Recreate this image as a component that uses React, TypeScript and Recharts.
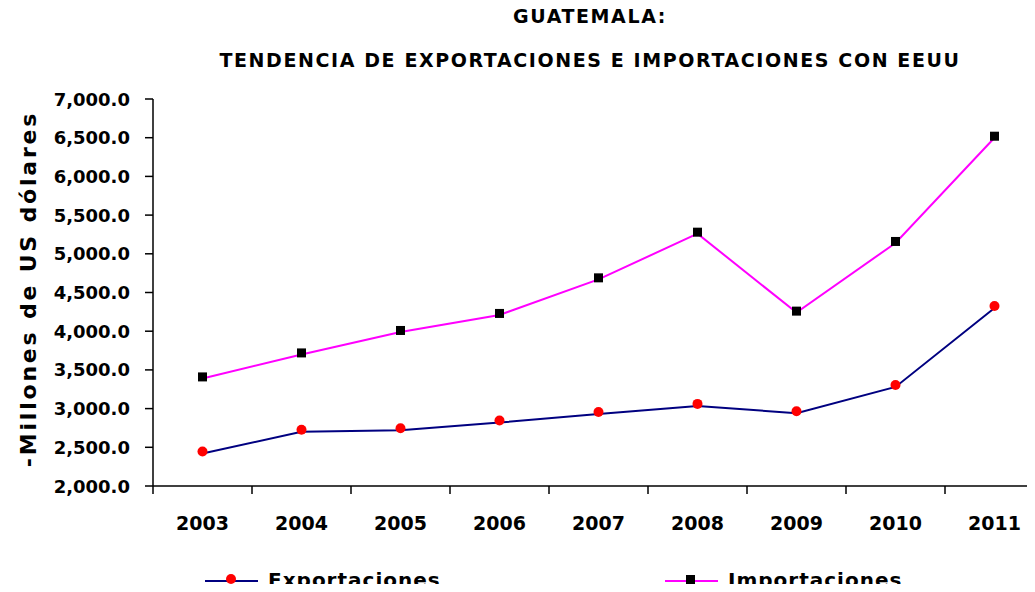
import { LineChart, Line, XAxis, YAxis } from "recharts";

const years = ["2003", "2004", "2005", "2006", "2007", "2008", "2009", "2010", "2011"];
const exportaciones = [2420, 2700, 2720, 2820, 2930, 3035, 2940, 3280, 4300];
const importaciones = [3390, 3700, 3990, 4210, 4670, 5260, 4240, 5140, 6500];
const yTicks = [2000, 2500, 3000, 3500, 4000, 4500, 5000, 5500, 6000, 6500, 7000];

const titleLines = ["GUATEMALA:", "TENDENCIA DE EXPORTACIONES E IMPORTACIONES CON EEUU"];
const yLabel = "-Millones de US dólares";

const FONT = "'DejaVu Sans', sans-serif";
const EXP_COLOR = "#000080";
const IMP_COLOR = "#ff00ff";

const data = years.map((year, i) => ({
  year,
  exportaciones: exportaciones[i],
  importaciones: importaciones[i],
}));

const fmt = (v: number) =>
  v.toLocaleString("en-US", { minimumFractionDigits: 1, maximumFractionDigits: 1 });

const AXIS_Y = 486;
const HALF_BAND = 49.5;

function YearTick(props: any) {
  const { x, payload } = props;
  return (
    <g>
      <line x1={x - HALF_BAND} x2={x - HALF_BAND} y1={AXIS_Y} y2={AXIS_Y + 8} stroke="#000" strokeWidth={1.5} />
      <text x={x} y={AXIS_Y + 44} textAnchor="middle" fontFamily={FONT} fontWeight="bold" fontSize={19} fill="#000">
        {payload.value}
      </text>
    </g>
  );
}

function ValueTick(props: any) {
  const { x, y, payload } = props;
  return (
    <text x={x} y={y} dy={6.5} textAnchor="end" fontFamily={FONT} fontWeight="bold" fontSize={18} fill="#000">
      {fmt(payload.value)}
    </text>
  );
}

const RedDot = (props: any) => {
  const { cx, cy, index } = props;
  return <circle key={index} cx={cx} cy={cy - 2} r={5} fill="#ff0000" />;
};

const BlackSquare = (props: any) => {
  const { cx, cy, index } = props;
  return <rect key={index} x={cx - 4.5} y={cy - 6} width={9} height={9} fill="#000" />;
};

const legendItems = [
  { name: "Exportaciones", color: EXP_COLOR, marker: "circle", left: 205 },
  { name: "Importaciones", color: IMP_COLOR, marker: "square", left: 665 },
];

export default function App() {
  return (
    <div style={{ position: "relative", width: 1035, height: 592, margin: -8, overflow: "hidden", background: "#fff" }}>
      {titleLines.map((t, i) => (
        <div
          key={t}
          style={{
            position: "absolute",
            left: 0,
            width: 1180,
            top: i === 0 ? 5 : 49,
            textAlign: "center",
            fontFamily: FONT,
            fontWeight: "bold",
            fontSize: 19,
            letterSpacing: 1.6,
            color: "#000",
            whiteSpace: "nowrap",
          }}
        >
          {t}
        </div>
      ))}
      <LineChart width={1050} height={592} data={data} margin={{ top: 99, right: 6, left: 0, bottom: 0 }}>
        <XAxis
          dataKey="year"
          height={106}
          padding={{ left: HALF_BAND, right: HALF_BAND }}
          tickLine={false}
          axisLine={{ stroke: "#000", strokeWidth: 1.5 }}
          tick={<YearTick />}
          interval={0}
        />
        <YAxis
          width={153}
          domain={[2000, 7000]}
          ticks={yTicks}
          interval={0}
          tickSize={8}
          tickMargin={15}
          tickLine={{ stroke: "#000", strokeWidth: 1.5 }}
          axisLine={{ stroke: "#000", strokeWidth: 1.5 }}
          tick={<ValueTick />}
          label={{
            content: () => (
              <text
                x={28}
                y={289}
                transform="rotate(-90, 28, 289)"
                textAnchor="middle"
                dominantBaseline="central"
                fontFamily={FONT}
                fontWeight="bold"
                fontSize={22}
                letterSpacing={2.8}
                fill="#000"
              >
                {yLabel}
              </text>
            ),
          }}
        />
        <Line
          type="linear"
          dataKey="exportaciones"
          stroke={EXP_COLOR}
          strokeWidth={2}
          dot={<RedDot />}
          activeDot={false}
          isAnimationActive={false}
        />
        <Line
          type="linear"
          dataKey="importaciones"
          stroke={IMP_COLOR}
          strokeWidth={2}
          dot={<BlackSquare />}
          activeDot={false}
          isAnimationActive={false}
        />
      </LineChart>
      <svg width={1035} height={40} style={{ position: "absolute", left: 0, top: 552 }}>
        {legendItems.map((item) => (
          <g key={item.name}>
            <line x1={item.left} x2={item.left + 53} y1={29} y2={29} stroke={item.color} strokeWidth={2} />
            {item.marker === "circle" ? (
              <circle cx={item.left + 26} cy={27} r={5} fill="#ff0000" />
            ) : (
              <rect x={item.left + 21} y={23} width={9} height={9} fill="#000" />
            )}
            <text
              x={item.left + 63}
              y={35}
              fontFamily={FONT}
              fontWeight="bold"
              fontSize={20}
              letterSpacing={1}
              fill="#000"
            >
              {item.name}
            </text>
          </g>
        ))}
      </svg>
    </div>
  );
}
